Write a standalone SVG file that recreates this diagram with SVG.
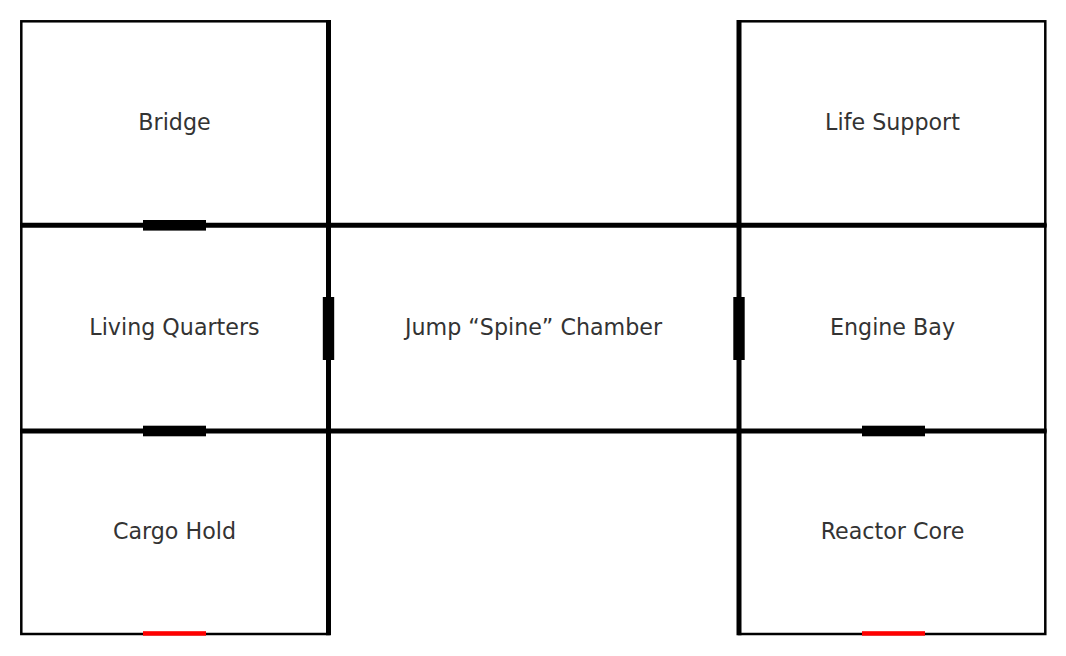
<svg xmlns="http://www.w3.org/2000/svg" width="1066" height="656" viewBox="0 0 1066 656">
<style>
.room{fill:none;stroke:#000;stroke-width:2.5}
.wall{stroke:#000;stroke-width:5;fill:none}
.lbl{font-family:"DejaVu Sans",sans-serif;font-size:22.2px;fill:#333;text-anchor:middle}
.door{fill:#000}
.exit{fill:#ff0000}
</style>
<rect x="0" y="0" width="1066" height="656" fill="#fff"/>
<g id="bridge"><rect class="room" x="21.3" y="21.3" width="307.2" height="204"/><text class="lbl" x="174.5" y="129.5">Bridge</text></g>
<g id="living-quarters"><rect class="room" x="21.3" y="225.3" width="307.2" height="205.7"/><text class="lbl" x="174.5" y="334.5">Living Quarters</text></g>
<g id="cargo-hold"><rect class="room" x="21.3" y="431" width="307.2" height="203"/><text class="lbl" x="174.5" y="539">Cargo Hold</text></g>
<g id="spine-chamber"><rect class="room" x="328.5" y="225.3" width="410.5" height="205.7"/><text class="lbl" x="533.5" y="334.5">Jump “Spine” Chamber</text></g>
<g id="life-support"><rect class="room" x="739" y="21.3" width="306.3" height="204"/><text class="lbl" x="892.5" y="129.5">Life Support</text></g>
<g id="engine-bay"><rect class="room" x="739" y="225.3" width="306.3" height="205.7"/><text class="lbl" x="892.5" y="334.5">Engine Bay</text></g>
<g id="reactor-core"><rect class="room" x="739" y="431" width="306.3" height="203"/><text class="lbl" x="892.5" y="539">Reactor Core</text></g>
<g id="walls">
<line class="wall" x1="20" y1="225.3" x2="1046.5" y2="225.3"/>
<line class="wall" x1="20" y1="431" x2="1046.5" y2="431"/>
<line class="wall" x1="328.5" y1="20" x2="328.5" y2="635.3"/>
<line class="wall" x1="739" y1="20" x2="739" y2="635.3"/>
</g>
<g id="connectors">
<rect class="door" x="143" y="220" width="63" height="10.6"/>
<rect class="door" x="143" y="425.7" width="63" height="10.6"/>
<rect class="door" x="322.8" y="297" width="11.4" height="63"/>
<rect class="door" x="733.3" y="297" width="11.4" height="63"/>
<rect class="door" x="862" y="425.7" width="63" height="10.6"/>
<rect class="exit" x="143" y="631.2" width="63" height="4.5"/>
<rect class="exit" x="862" y="631.2" width="63" height="4.5"/>
</g>
</svg>
